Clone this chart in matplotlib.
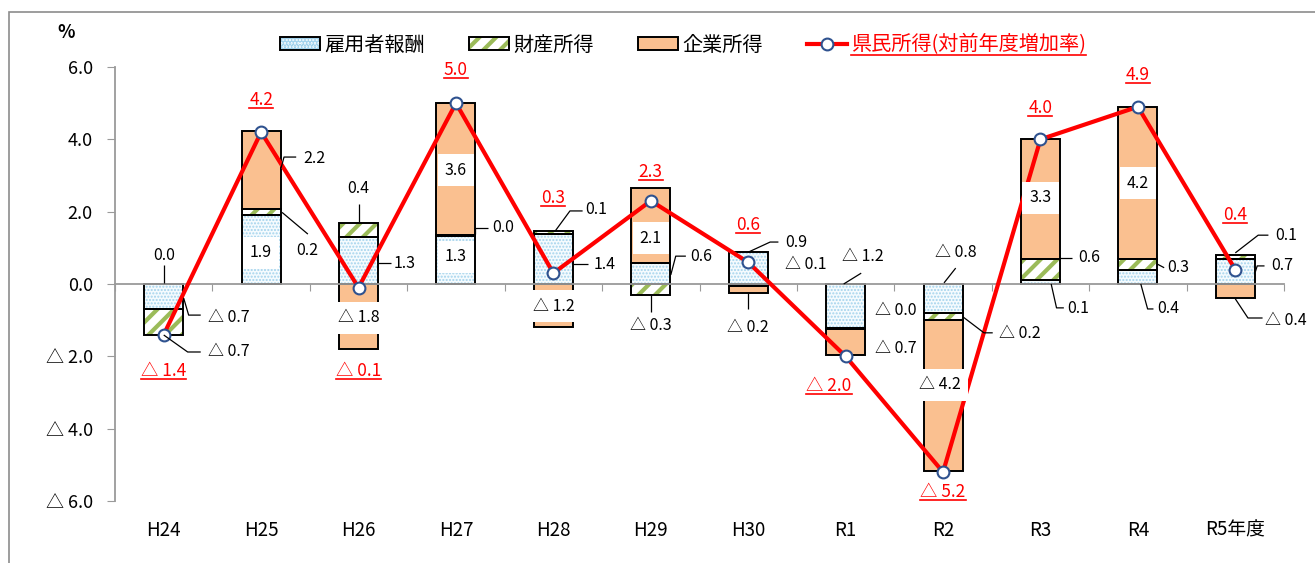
import matplotlib.pyplot as plt
from matplotlib.patches import Rectangle, Patch
from matplotlib.lines import Line2D
from matplotlib.legend_handler import HandlerTuple
from matplotlib.transforms import blended_transform_factory

plt.rcParams['font.family'] = ['Noto Sans CJK JP', 'DejaVu Sans']
plt.rcParams['hatch.linewidth'] = 3.0

# data (% points, contribution to growth)
years = ['H24', 'H25', 'H26', 'H27', 'H28', 'H29', 'H30', 'R1', 'R2', 'R3', 'R4', 'R5年度']
koyo = [-0.70, 1.90, 1.30, 1.34, 1.38, 0.58, 0.88, -1.21, -0.80, 0.10, 0.40, 0.70]      # 雇用者報酬
zaisan = [-0.72, 0.16, 0.40, 0.02, 0.08, -0.31, -0.06, -0.04, -0.20, 0.60, 0.30, 0.10]  # 財産所得
kigyo = [0.00, 2.17, -1.80, 3.64, -1.19, 2.07, -0.20, -0.71, -4.16, 3.30, 4.20, -0.40]  # 企業所得
kenmin = [-1.4, 4.2, -0.1, 5.0, 0.3, 2.3, 0.6, -2.0, -5.2, 4.0, 4.9, 0.4]               # 県民所得 増加率

series = {'koyo': koyo, 'zaisan': zaisan, 'kigyo': kigyo}


def fmt(v):
    if v >= 0:
        return f'{v:.1f}'
    return f'△ {abs(v):.1f}'


fig = plt.figure(figsize=(13.15, 5.63), dpi=100)
ax = fig.add_axes([115 / 1315, 62 / 563, 1169 / 1315, 434 / 563])

x = list(range(len(years)))
w = 0.4
styles = [
    ('koyo', '#f5fbfe', '#a3d3ec', '.....', 1.0),
    ('zaisan', 'white', '#9bbb59', '//', 3.0),
    ('kigyo', '#fac090', '#fac090', None, 0),
]
pos = [0.0] * len(years)
neg = [0.0] * len(years)
handles = []
for key, fc, hc, hatch, hlw in styles:
    vals = series[key]
    bottoms = [pos[i] if v >= 0 else neg[i] for i, v in enumerate(vals)]
    fill = ax.bar(x, vals, w, bottom=bottoms, color=fc, edgecolor=hc, linewidth=0,
                  hatch=hatch, zorder=2)
    if hatch is not None:
        for p in fill:
            if hasattr(p, 'set_hatch_linewidth'):
                p.set_hatch_linewidth(hlw)
    ax.bar(x, vals, w, bottom=bottoms, fill=False, edgecolor='black', linewidth=1.4, zorder=2.1)
    for i, v in enumerate(vals):
        if v >= 0:
            pos[i] += v
        else:
            neg[i] += v
    hp = Patch(facecolor=fc, edgecolor=hc, linewidth=0, hatch=hatch)
    if hatch is not None and hasattr(hp, 'set_hatch_linewidth'):
        hp.set_hatch_linewidth(hlw)
    handles.append((hp, Patch(fill=False, edgecolor='black', linewidth=1.4)))

ax.plot(x, kenmin, color='#ff0000', lw=3, marker='o', ms=8.5, mfc='white',
        mec='#2f528f', mew=1.5, zorder=3)
handles.append(Line2D([], [], color='#ff0000', lw=3, marker='o', ms=8.5, mfc='white',
                      mec='#2f528f', mew=1.5))

# axes
ax.set_xlim(-0.5, len(years) - 0.5)
ax.set_ylim(-6, 6)
ax.set_yticks([6, 4, 2, 0, -2, -4, -6])
ax.set_yticklabels([fmt(v) for v in [6.0, 4.0, 2.0, 0.0, -2.0, -4.0, -6.0]], fontsize=13)
ax.set_xticks([i - 0.5 for i in range(len(years) + 1)])
ax.set_xticklabels([])
ax.spines['top'].set_visible(False)
ax.spines['right'].set_visible(False)
ax.spines['bottom'].set_position(('data', 0))
for s in ['left', 'bottom']:
    ax.spines[s].set_color('#9a9a9a')
    ax.spines[s].set_linewidth(1.3)
ax.tick_params(axis='y', length=6, color='#9a9a9a', pad=10)
ax.tick_params(axis='x', length=5, color='#9a9a9a', direction='out')
tr = blended_transform_factory(ax.transData, ax.transAxes)
for i, name in enumerate(years):
    ax.text(i, -0.067, name, transform=tr, ha='center', va='center', fontsize=13.5)
fig.text(66 / 1315, 1 - 32 / 563, '%', ha='center', va='center', fontsize=13, fontweight='bold')

# segment labels: (series, year index, dx, y, placement, leader)
layout = [
    ('kigyo', 0, 0, 0.80, 'center', [(0, 0.02), (0, 0.52)]),
    ('koyo', 0, 0.45, -0.94, 'left', [(0.205, -0.39), (0.256, -0.86), (0.38, -0.86)]),
    ('zaisan', 0, 0.45, -1.88, 'left', [(0, -1.41), (0.246, -1.88), (0.38, -1.88)]),
    ('koyo', 1, 0, 0.86, 'in', None),
    ('zaisan', 1, 0.36, 0.94, 'left', [(0.215, 1.98), (0.48, 1.38)]),
    ('kigyo', 1, 0.43, 3.48, 'left', [(0.205, 3.21), (0.235, 3.51), (0.36, 3.51)]),
    ('zaisan', 2, 0, 2.65, 'center', [(0, 1.72), (0, 2.2)]),
    ('koyo', 2, 0.36, 0.58, 'left', [(0.2, 0.58), (0.33, 0.58)]),
    ('kigyo', 2, 0, -0.94, 'in', None),
    ('koyo', 3, 0, 0.75, 'in', None),
    ('zaisan', 3, 0.37, 1.55, 'left', [(0.2, 1.38), (0.2, 1.55), (0.33, 1.55)]),
    ('kigyo', 3, 0, 3.15, 'in', None),
    ('zaisan', 4, 0.33, 2.05, 'left', [(0.02, 1.47), (0.17, 2.02), (0.3, 2.02)]),
    ('koyo', 4, 0.41, 0.55, 'left', [(0.2, 0.55), (0.36, 0.55)]),
    ('kigyo', 4, 0, -0.61, 'in', None),
    ('koyo', 5, 0.41, 0.77, 'left', [(0.205, 0.25), (0.256, 0.77), (0.36, 0.77)]),
    ('zaisan', 5, 0, -1.16, 'center', [(0, -0.31), (0, -0.78)]),
    ('kigyo', 5, 0, 1.27, 'in', None),
    ('koyo', 6, 0.38, 1.16, 'left', [(0, 0.88), (0.225, 1.16), (0.31, 1.16)]),
    ('zaisan', 6, 0.38, 0.55, 'left', None),
    ('kigyo', 6, 0, -1.19, 'center', [(0, -0.26), (0, -0.69)]),
    ('koyo', 7, 0.18, 0.75, 'center', [(-0.02, 0.0), (0.16, 0.3)]),
    ('zaisan', 7, 0.30, -0.73, 'left', None),
    ('kigyo', 7, 0.30, -1.77, 'left', None),
    ('koyo', 8, 0.13, 0.86, 'center', [(0.01, 0.03), (0.13, 0.44)]),
    ('zaisan', 8, 0.57, -1.38, 'left', [(0.205, -0.91), (0.42, -1.35), (0.51, -1.35)]),
    ('kigyo', 8, -0.03, -2.79, 'in', None),
    ('zaisan', 9, 0.39, 0.72, 'left', [(0.205, 0.72), (0.32, 0.72)]),
    ('koyo', 9, 0.27, -0.69, 'left', [(0.11, 0.0), (0.165, -0.66), (0.24, -0.66)]),
    ('kigyo', 9, 0, 2.38, 'in', None),
    ('zaisan', 10, 0.3, 0.45, 'left', [(0.2, 0.55), (0.27, 0.45)]),
    ('koyo', 10, 0.2, -0.69, 'left', [(0.03, 0.0), (0.1, -0.69), (0.16, -0.69)]),
    ('kigyo', 10, 0, 2.79, 'in', None),
    ('zaisan', 11, 0.41, 1.35, 'left', [(0, 0.86), (0.235, 1.35), (0.34, 1.35)]),
    ('koyo', 11, 0.37, 0.5, 'left', [(0.205, 0.33), (0.225, 0.5), (0.3, 0.5)]),
    ('kigyo', 11, 0.31, -1.0, 'left', [(0, -0.41), (0.13, -0.94), (0.28, -0.94)]),
]
for key, i, dx, y, place, leader in layout:
    txt = fmt(series[key][i])
    if place == 'in':
        ax.text(i + dx, y, txt, ha='center', va='center', fontsize=11.5, zorder=6,
                bbox=dict(boxstyle='square,pad=0.45', fc='white', ec='none'))
    else:
        ax.text(i + dx, y, txt, ha=place, va='center', fontsize=11.5, zorder=6,
                bbox=dict(boxstyle='square,pad=0.1', fc='white', ec='none'))
    if leader:
        ax.plot([i + p[0] for p in leader], [p[1] for p in leader], color='black', lw=0.9,
                zorder=4, solid_capstyle='butt')

# total growth labels (red, underlined)
tot_place = [(0, -2.41), (0, 5.09), (0, -2.41), (0, 5.92), (0, 2.38), (0, 3.10), (0, 1.63),
             (-0.17, -2.82), (0, -5.75), (0, 4.87), (0, 5.78), (0, 1.91)]
red_texts = []
for i, v in enumerate(kenmin):
    dx, y = tot_place[i]
    t = ax.text(i + dx, y, fmt(v), ha='center', va='center', fontsize=12.5, color='#ff0000',
                zorder=6, clip_on=False,
                bbox=dict(boxstyle='square,pad=0.15', fc='white', ec='none'))
    red_texts.append(t)

leg = fig.legend(handles, ['雇用者報酬', '財産所得', '企業所得', '県民所得(対前年度増加率)'],
                 loc='center', bbox_to_anchor=(683 / 1315, 1 - 45 / 563), ncol=4, frameon=False,
                 fontsize=14.5, handlelength=2.0, handleheight=0.6, handletextpad=0.2,
                 columnspacing=2.2, handler_map={tuple: HandlerTuple(ndivide=1)})
leg.get_texts()[3].set_color('#ff0000')
red_texts.append(leg.get_texts()[3])

# chart border
fig.add_artist(Rectangle((9 / 1315, -0.1), 1.2, 1.1 - 12 / 563, transform=fig.transFigure,
                         fill=False, edgecolor='#8c8c8c', linewidth=1.2))

# underline red texts
fig.canvas.draw()
rend = fig.canvas.get_renderer()
inv = fig.transFigure.inverted()
for t in red_texts:
    bb = t.get_window_extent(rend)
    (x0, y0), (x1, _) = inv.transform([(bb.x0, bb.y0 + 1), (bb.x1, bb.y0 + 1)])
    fig.add_artist(Line2D([x0, x1], [y0, y0], transform=fig.transFigure, color='#ff0000', lw=1.2))

fig.savefig('out.png', dpi=100)
